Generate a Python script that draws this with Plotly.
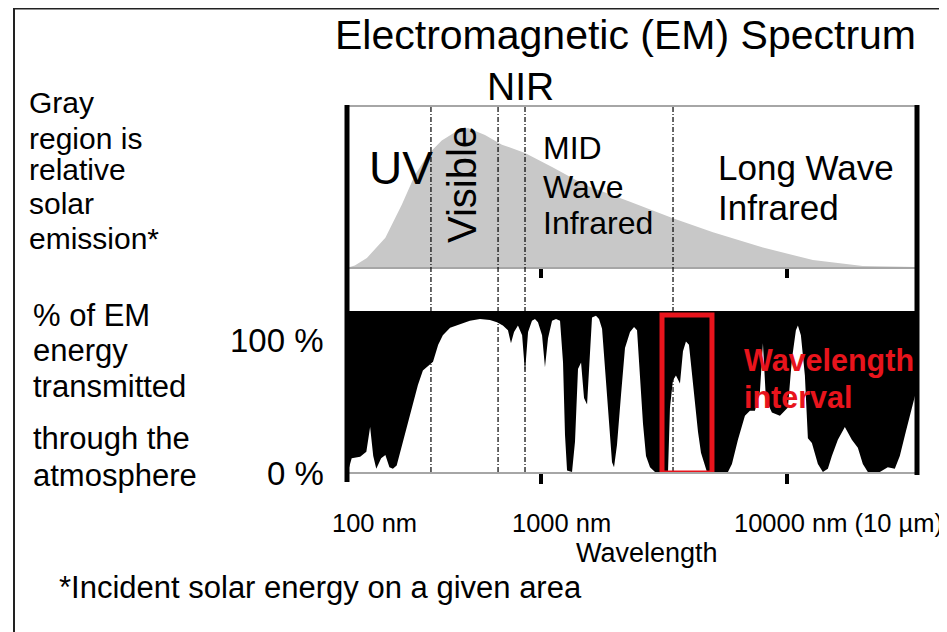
import plotly.graph_objects as go

# ---------------- data ----------------
# Relative solar emission (gray region), wavelength in nm
emis_nm = [163, 167, 175, 196, 233, 272, 307, 347, 395, 447, 505, 592, 694, 861,
           1109, 1510, 2301, 3439, 5001, 7982, 12741, 16400, 20337, 33740]
emis_rel = [0, 0, 1, 6.5, 21, 45, 66, 81, 91, 97, 100, 95, 88, 82,
            72, 59, 47, 35, 25, 14, 5, 2.5, 0.7, 0]

# Atmospheric transmission (%), wavelength in nm
trans_nm = [163, 166, 170, 184, 195, 202, 208, 214, 224, 233, 242, 250, 259, 280,
            301, 316, 331, 347, 364, 382, 399, 427, 469, 514, 565, 620, 662, 700,
            734, 755, 777, 806, 838, 861, 886, 919, 945, 972, 1010, 1038, 1068,
            1109, 1151, 1195, 1229, 1252, 1276, 1337, 1375, 1414, 1455, 1496, 1539,
            1582, 1612, 1673, 1721, 1771, 1838, 1908, 1944, 1981, 2037, 2115, 2195,
            2301, 2389, 2457, 2526, 2598, 2672, 2774, 2907, 3104, 3283, 3344, 3439,
            3537, 3672, 3777, 3884, 3995, 4109, 4226, 4347, 4470, 4597, 4728, 5339,
            5754, 5973, 6318, 6745, 7068, 7407, 7761, 7982, 8210, 8683, 9357, 10085,
            10469, 10869, 11074, 11388, 11822, 12160, 12622, 13352, 13990, 14660,
            15218, 16098, 17186, 18348, 19409, 20337, 21311, 23840, 25695, 27431,
            28743, 30404, 32158, 33740]
trans_pct = [2, 3, 8.5, 9.5, 12.6, 28, 10, 2, 8.5, 10.5, 3, 2, 4, 23,
             42, 54, 63, 66, 68.5, 79, 85, 89.6, 92, 94, 95, 94.4, 93, 91,
             88, 80, 87, 91, 85, 62, 87, 94, 95, 93, 85, 65, 83,
             94, 95, 94, 68, 23, 1, 0, 19, 64, 68, 46, 42,
             79, 96, 97, 95, 89, 58, 27, 6, 3, 17, 48, 77,
             87, 90, 88, 60, 30, 10, 3, 0, 0, 0, 40, 57,
             60, 55, 75, 81, 79, 60, 40, 25, 12, 6, 0, 0,
             0, 5, 20, 35, 38, 38, 50, 80, 45, 37, 35, 40,
             70, 88, 91, 85, 60, 21, 18, 5, 0, 2,
             10, 20, 28, 20, 15, 5, 0, 0, 3, 2,
             10, 25, 40, 52]
absorb_top = [100] * len(trans_nm)

# Region boundaries (dashed lines), nm
band_edges_nm = [357, 669, 861, 3441]
# Highlighted wavelength interval (red box), nm
interval_nm = [3104, 4955]

tick_vals = [1000, 10000]
tick_labels = ["100 nm", "1000 nm", "10000 nm (10 µm)"]

# ---------------- layout helpers ----------------
OFF = 8                      # page body margin
W, H = 947 - OFF, 632 - OFF
FONT = "Liberation Sans, Arial, sans-serif"


def px(x):
    return (x - OFF) / W


def py(y):
    return 1 - (y - OFF) / H


X_RANGE = [3 - 194 / 246, 3 + 376 / 246]
X_DOM = [px(347), px(917)]

fig = go.Figure()
fig.add_trace(go.Scatter(x=emis_nm, y=emis_rel, mode="lines", fill="tozeroy",
                         fillcolor="#c8c8c8", line=dict(width=0, color="#c8c8c8"),
                         xaxis="x", yaxis="y", hoverinfo="skip"))
fig.add_trace(go.Scatter(x=trans_nm, y=trans_pct, mode="lines",
                         line=dict(width=0, color="black"),
                         xaxis="x2", yaxis="y2", hoverinfo="skip"))
fig.add_trace(go.Scatter(x=trans_nm, y=absorb_top, mode="lines", fill="tonexty",
                         fillcolor="black", line=dict(width=0, color="black"),
                         xaxis="x2", yaxis="y2", hoverinfo="skip"))

axis_common = dict(type="log", range=X_RANGE, domain=X_DOM, showgrid=False,
                   zeroline=False, showline=True, linecolor="#a6a6a6", linewidth=2,
                   ticks="outside", tickvals=tick_vals, tickcolor="black",
                   tickwidth=4, showticklabels=False)

fig.update_layout(
    width=W, height=H, margin=dict(l=0, r=0, t=0, b=0),
    paper_bgcolor="white", plot_bgcolor="white", showlegend=False,
    font=dict(family=FONT, color="black"),
    xaxis=dict(anchor="y", mirror=True, ticklen=9, **axis_common),
    xaxis2=dict(anchor="y2", matches="x", ticklen=10, **axis_common),
    yaxis=dict(domain=[py(267), py(107)], range=[0, 115.1], visible=False),
    yaxis2=dict(domain=[py(472), py(311)], range=[0, 100], visible=False),
)

shapes = []
# frame
shapes.append(dict(type="line", xref="paper", yref="paper", x0=px(14), x1=px(14),
                   y0=1, y1=0, line=dict(color="#222", width=2)))
shapes.append(dict(type="line", xref="paper", yref="paper", x0=px(14), x1=1,
                   y0=0.999, y1=0.999, line=dict(color="#222", width=2)))
# thick side bars
shapes.append(dict(type="line", xref="x domain", yref="paper", x0=0, x1=0,
                   y0=py(105), y1=py(482), line=dict(color="black", width=5)))
shapes.append(dict(type="line", xref="x domain", yref="paper", x0=1, x1=1,
                   y0=py(105), y1=py(475), line=dict(color="black", width=5)))
# dashed band boundaries
for v in band_edges_nm:
    shapes.append(dict(type="line", xref="x", yref="paper", x0=v, x1=v,
                       y0=py(107), y1=py(472),
                       line=dict(color="black", width=1.2, dash="5px,2px,1px,2px")))
# red interval box
shapes.append(dict(type="rect", xref="x2", yref="y2", x0=interval_nm[0],
                   x1=interval_nm[1], y0=-0.6, y1=97.5,
                   line=dict(color="#e8141c", width=5)))
fig.update_layout(shapes=shapes)

ann = []


def text(t, x, y, size, anchor="left", color="black", bold=False, angle=0):
    if bold:
        t = "<b>" + t + "</b>"
    ann.append(dict(text=t, x=px(x), y=py(y), xref="paper", yref="paper",
                    xanchor=anchor, yanchor="middle", showarrow=False,
                    textangle=angle, font=dict(size=size, color=color, family=FONT)))


text("Electromagnetic (EM) Spectrum", 625, 35, 41, "center")
text("NIR", 520, 86, 39, "center")
text("UV", 367, 168, 46)
text("Visible", 462, 185, 40, "center", angle=-90)
for t, y in zip(["MID", "Wave", "Infrared"], [148, 187, 223]):
    text(t, 541, y, 32)
for t, y in zip(["Long Wave", "Infrared"], [167, 207]):
    text(t, 716, y, 35)
for t, y in zip(["Gray", "region is", "relative", "solar", "emission*"],
                [102, 138, 170, 203, 238]):
    text(t, 27, y, 30)
for t, y in zip(["% of EM", "energy", "transmitted", "through the", "atmosphere"],
                [315, 350, 387, 438, 475]):
    text(t, 31, y, 31)
text("100 %", 326, 340, 33, "right")
text("0 %", 326, 473, 33, "right")
for t, y in zip(["Wavelength", "interval"], [360, 397]):
    text(t, 742, y, 30.5, color="#e8141c", bold=True)
for t, x in zip(tick_labels, [330, 510, 732]):
    text(t, x, 523, 25.5)
text("Wavelength", 574, 553, 27)
text("*Incident solar energy on a given area", 57, 587, 31)

fig.update_layout(annotations=ann)
fig.write_html("out.html")
